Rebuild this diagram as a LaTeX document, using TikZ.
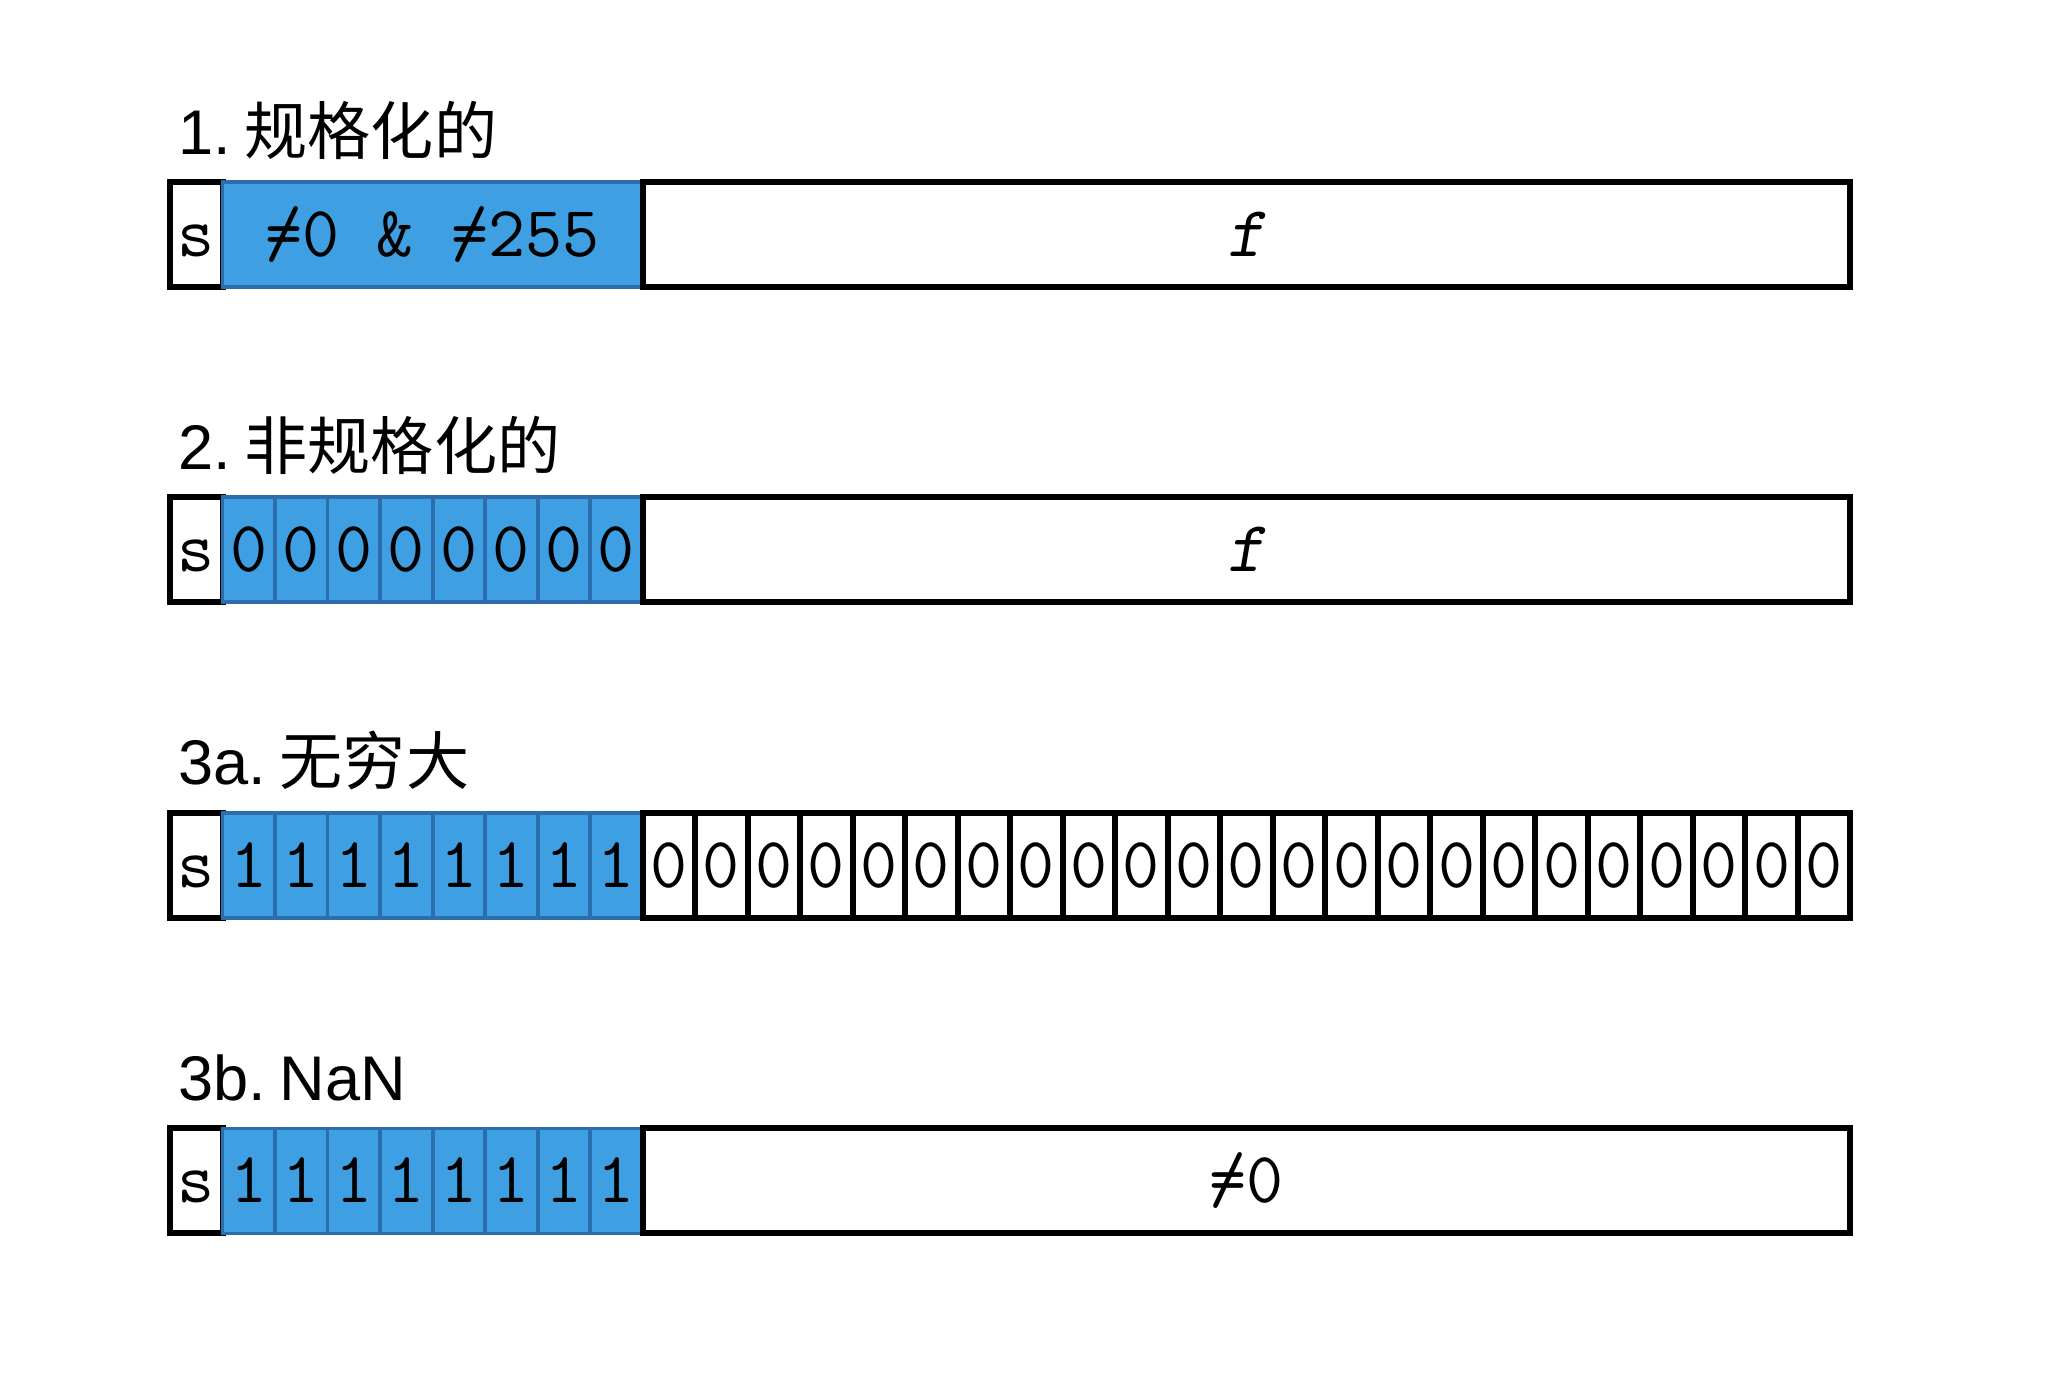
\documentclass[tikz,border=0pt]{standalone}
\usepackage{fontspec}
\setsansfont{Liberation Sans}
\newfontfamily\cjk{Noto Sans CJK SC}
\usepackage{xcolor}
\usepackage{tikz}
\usetikzlibrary{positioning}
\definecolor{tinta}{HTML}{000000}
\definecolor{azulBit}{HTML}{3E9FE3}
\definecolor{bordeAzul}{HTML}{2B6DAD}
\newcommand\distinto{\makebox[0pt][l]{=}/}

\begin{document}
\begin{tikzpicture}[x=0.5cm,y=0.5cm,
    celda/.style={draw=tinta,line width=1.6pt,minimum width=0.5cm,minimum height=1cm,
                  inner sep=0pt,outer sep=0pt,anchor=north west,
                  text height=11.9pt,text depth=0pt,font=\fontsize{19.5}{20}\ttfamily},
    exp/.style={celda,fill=azulBit,draw=bordeAzul,line width=1pt},
    campo/.style={celda,minimum width=11.5cm},
    titulo/.style={anchor=base west,inner sep=0pt,font=\fontsize{17.1}{20}\sffamily}]
  \useasboundingbox (0,0) rectangle (39.1,-26.59);
  % 1. normalizado
  \node[titulo] (t1) at (3.38,-2.94) {1.\hspace{0.22em}{\cjk 规格化的}};
  \node[celda] (r1s) at (3.24,-3.47) {s};
  \node[exp,minimum width=4cm] (r1e) at (r1s.north east) {\distinto0~\&~\distinto255};
  \node[campo] (r1f) at (r1e.north east) {\textsl{f}};
  % 2. desnormalizado
  \node[titulo] (t2) at (3.38,-8.94) {2.\hspace{0.22em}{\cjk 非规格化的}};
  \node[celda] (r2s) at (3.24,-9.47) {s};
  \foreach \i in {1,...,8}
    \node[exp] (r2e\i) at (3.24+\i,-9.47) {0};
  \node[campo] (r2f) at (r2e8.north east) {\textsl{f}};
  % 3a. infinito
  \node[titulo] (t3) at (3.38,-14.95) {3a.\hspace{0.22em}{\cjk 无穷大}};
  \node[celda] (r3s) at (3.24,-15.48) {s};
  \foreach \i in {1,...,8}
    \node[exp] (r3e\i) at (3.24+\i,-15.48) {1};
  \foreach \i in {9,...,31}
    \node[celda] (r3f\i) at (3.24+\i,-15.48) {0};
  % 3b. NaN
  \node[titulo] (t4) at (3.38,-20.96) {3b.\hspace{0.22em}NaN};
  \node[celda] (r4s) at (3.24,-21.49) {s};
  \foreach \i in {1,...,8}
    \node[exp] (r4e\i) at (3.24+\i,-21.49) {1};
  \node[campo] (r4f) at (r4e8.north east) {\distinto0};
\end{tikzpicture}
\end{document}
